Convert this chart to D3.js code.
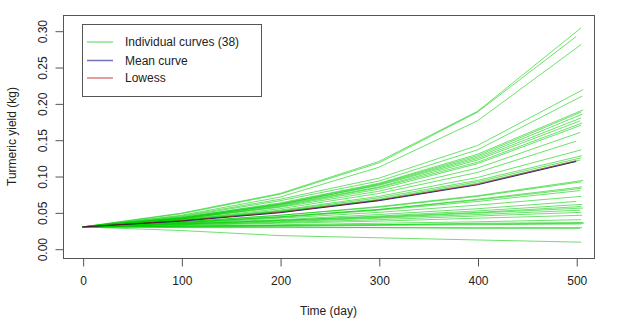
<!DOCTYPE html>
<html>
<head>
<meta charset="utf-8">
<script src="https://cdn.jsdelivr.net/npm/d3@7"></script>
<style>
  html, body { margin: 0; padding: 0; background: #fff; }
  svg { display: block; font-family: "Liberation Sans", Arial, sans-serif; }
</style>
</head>
<body>
<svg id="chart" width="628" height="336"></svg>
<script>
// ---- Data ----
const times = [0, 100, 200, 300, 400];           // shared measurement days
const endTimes = [                                // last measurement day per curve
  505, 500, 505, 507, 506, 507, 505, 506, 505, 504,
  506, 505, 504, 500, 505, 506, 505, 504, 507, 505,
  506, 505, 504, 505, 500, 506, 505, 507, 504, 505,
  506, 505, 507, 508, 505, 506, 504, 505
];
const curves = [
  [0.030, 0.049, 0.076, 0.120, 0.189, 0.304],
  [0.030, 0.048, 0.075, 0.118, 0.188, 0.292],
  [0.030, 0.046, 0.071, 0.112, 0.176, 0.281],
  [0.030, 0.045, 0.068, 0.097, 0.142, 0.219],
  [0.030, 0.044, 0.066, 0.093, 0.136, 0.210],
  [0.030, 0.043, 0.063, 0.090, 0.130, 0.191],
  [0.030, 0.043, 0.062, 0.089, 0.128, 0.188],
  [0.030, 0.042, 0.061, 0.088, 0.126, 0.185],
  [0.030, 0.042, 0.061, 0.087, 0.124, 0.180],
  [0.030, 0.042, 0.060, 0.085, 0.122, 0.176],
  [0.030, 0.041, 0.059, 0.084, 0.119, 0.173],
  [0.030, 0.041, 0.058, 0.082, 0.117, 0.170],
  [0.030, 0.041, 0.057, 0.079, 0.111, 0.160],
  [0.030, 0.040, 0.055, 0.076, 0.105, 0.148],
  [0.030, 0.040, 0.053, 0.072, 0.098, 0.136],
  [0.030, 0.039, 0.052, 0.070, 0.094, 0.128],
  [0.030, 0.039, 0.051, 0.068, 0.092, 0.125],
  [0.030, 0.039, 0.051, 0.067, 0.090, 0.122],
  [0.030, 0.037, 0.046, 0.058, 0.073, 0.094],
  [0.030, 0.037, 0.046, 0.057, 0.072, 0.092],
  [0.030, 0.036, 0.044, 0.054, 0.068, 0.085],
  [0.030, 0.036, 0.044, 0.054, 0.067, 0.083],
  [0.030, 0.036, 0.043, 0.053, 0.065, 0.080],
  [0.030, 0.035, 0.042, 0.050, 0.060, 0.072],
  [0.030, 0.035, 0.040, 0.047, 0.055, 0.065],
  [0.030, 0.034, 0.039, 0.045, 0.052, 0.061],
  [0.030, 0.034, 0.039, 0.044, 0.050, 0.058],
  [0.030, 0.034, 0.038, 0.043, 0.049, 0.056],
  [0.030, 0.033, 0.037, 0.042, 0.047, 0.053],
  [0.030, 0.033, 0.036, 0.040, 0.045, 0.050],
  [0.030, 0.032, 0.035, 0.038, 0.042, 0.046],
  [0.030, 0.031, 0.033, 0.035, 0.037, 0.040],
  [0.030, 0.031, 0.032, 0.033, 0.035, 0.036],
  [0.030, 0.031, 0.032, 0.033, 0.034, 0.035],
  [0.030, 0.030, 0.031, 0.032, 0.033, 0.034],
  [0.030, 0.030, 0.030, 0.029, 0.029, 0.029],
  [0.030, 0.029, 0.029, 0.029, 0.028, 0.028],
  [0.030, 0.025, 0.018, 0.015, 0.012, 0.009]
];
const meanTimes = [0, 100, 200, 300, 400, 500];
const meanCurve = [0.030, 0.038, 0.0495, 0.066, 0.088, 0.120];
const lowessCurve = [0.030, 0.0385, 0.0502, 0.0668, 0.0888, 0.1212];
const xTicks = [0, 100, 200, 300, 400, 500];
const yTicks = [0.00, 0.05, 0.10, 0.15, 0.20, 0.25, 0.30];
const legendLabels = ["Individual curves (38)", "Mean curve", "Lowess"];

// ---- Layout ----
const svg = d3.select("#chart");
const box = { left: 63, right: 594, top: 15, bottom: 258 };
const x = d3.scaleLinear().domain([-19.9, 518]).range([box.left, box.right]);
const y = d3.scaleLinear().domain([-0.0128, 0.3216]).range([box.bottom, box.top]);

const cGreen = "rgba(0,205,0,0.58)";
const cBlue = "rgba(0,0,110,0.85)";
const cRed = "rgba(170,0,0,0.55)";
const legGreen = "rgba(0,190,0,0.45)";
const legBlue = "rgba(0,0,140,0.55)";
const legRed = "rgba(180,0,0,0.5)";
const axisCol = "#555";

const line = d3.line().x(d => x(d[0])).y(d => y(d[1]));

const g = svg.append("g");
curves.forEach((vals, i) => {
  const ts = times.concat([endTimes[i]]);
  const pts = vals.map((v, k) => [ts[k], v]);
  g.append("path").attr("d", line(pts))
    .attr("fill", "none").attr("stroke", cGreen).attr("stroke-width", 1);
});
g.append("path").attr("d", line(meanTimes.map((t, k) => [t, meanCurve[k]])))
  .attr("fill", "none").attr("stroke", cBlue).attr("stroke-width", 1);
g.append("path").attr("d", line(meanTimes.map((t, k) => [t, lowessCurve[k]])))
  .attr("fill", "none").attr("stroke", cRed).attr("stroke-width", 1);

// Box
svg.append("rect")
  .attr("x", box.left + 0.5).attr("y", box.top + 0.5)
  .attr("width", box.right - box.left).attr("height", box.bottom - box.top)
  .attr("fill", "none").attr("stroke", axisCol).attr("stroke-width", 1);

// X axis
const xAxis = d3.axisBottom(x).tickValues(xTicks).tickSize(8).tickPadding(10).tickFormat(d3.format("d"));
const gx = svg.append("g").attr("transform", `translate(0.5,${box.bottom + 0.5})`).call(xAxis);
gx.select(".domain").attr("d", `M${x(0)},0H${x(500)}`).attr("stroke", axisCol);
gx.selectAll(".tick line").attr("stroke", axisCol);
gx.selectAll(".tick text").attr("font-size", 12).attr("fill", "#222")
  .attr("font-family", "'Liberation Sans', Arial, sans-serif");

// Y axis
const yAxis = d3.axisLeft(y).tickValues(yTicks).tickSize(8).tickFormat(d3.format(".2f"));
const gy = svg.append("g").attr("transform", `translate(${box.left + 0.5},0.5)`).call(yAxis);
gy.select(".domain").attr("d", `M0,${y(0)}V${y(0.30)}`).attr("stroke", axisCol);
gy.selectAll(".tick line").attr("stroke", axisCol);
gy.selectAll(".tick text")
  .attr("font-size", 12).attr("fill", "#222")
  .attr("font-family", "'Liberation Sans', Arial, sans-serif")
  .attr("x", null).attr("dy", null)
  .attr("text-anchor", "middle")
  .attr("transform", "translate(-21,0) rotate(-90)")
  .attr("dominant-baseline", "central");

// Axis titles
svg.append("text").attr("x", (box.left + box.right) / 2).attr("y", 315)
  .attr("text-anchor", "middle").attr("font-size", 12).attr("fill", "#222")
  .text("Time (day)");
svg.append("text")
  .attr("transform", `translate(16,${(box.top + box.bottom) / 2}) rotate(-90)`)
  .attr("text-anchor", "middle").attr("font-size", 12).attr("fill", "#222")
  .text("Turmeric yield (kg)");

// Legend
const lg = svg.append("g");
lg.append("rect").attr("x", 82.5).attr("y", 24.5).attr("width", 179).attr("height", 72)
  .attr("fill", "#fff").attr("stroke", axisCol);
const legCols = [legGreen, legBlue, legRed];
const legY = [42, 60.5, 78];
legendLabels.forEach((lab, i) => {
  lg.append("line").attr("x1", 87).attr("x2", 113).attr("y1", legY[i]).attr("y2", legY[i])
    .attr("stroke", legCols[i]).attr("stroke-width", 1.5);
  lg.append("text").attr("x", 125).attr("y", legY[i]).attr("dy", "0.35em")
    .attr("font-size", 12).attr("fill", "#222").text(lab);
});
</script>
</body>
</html>
